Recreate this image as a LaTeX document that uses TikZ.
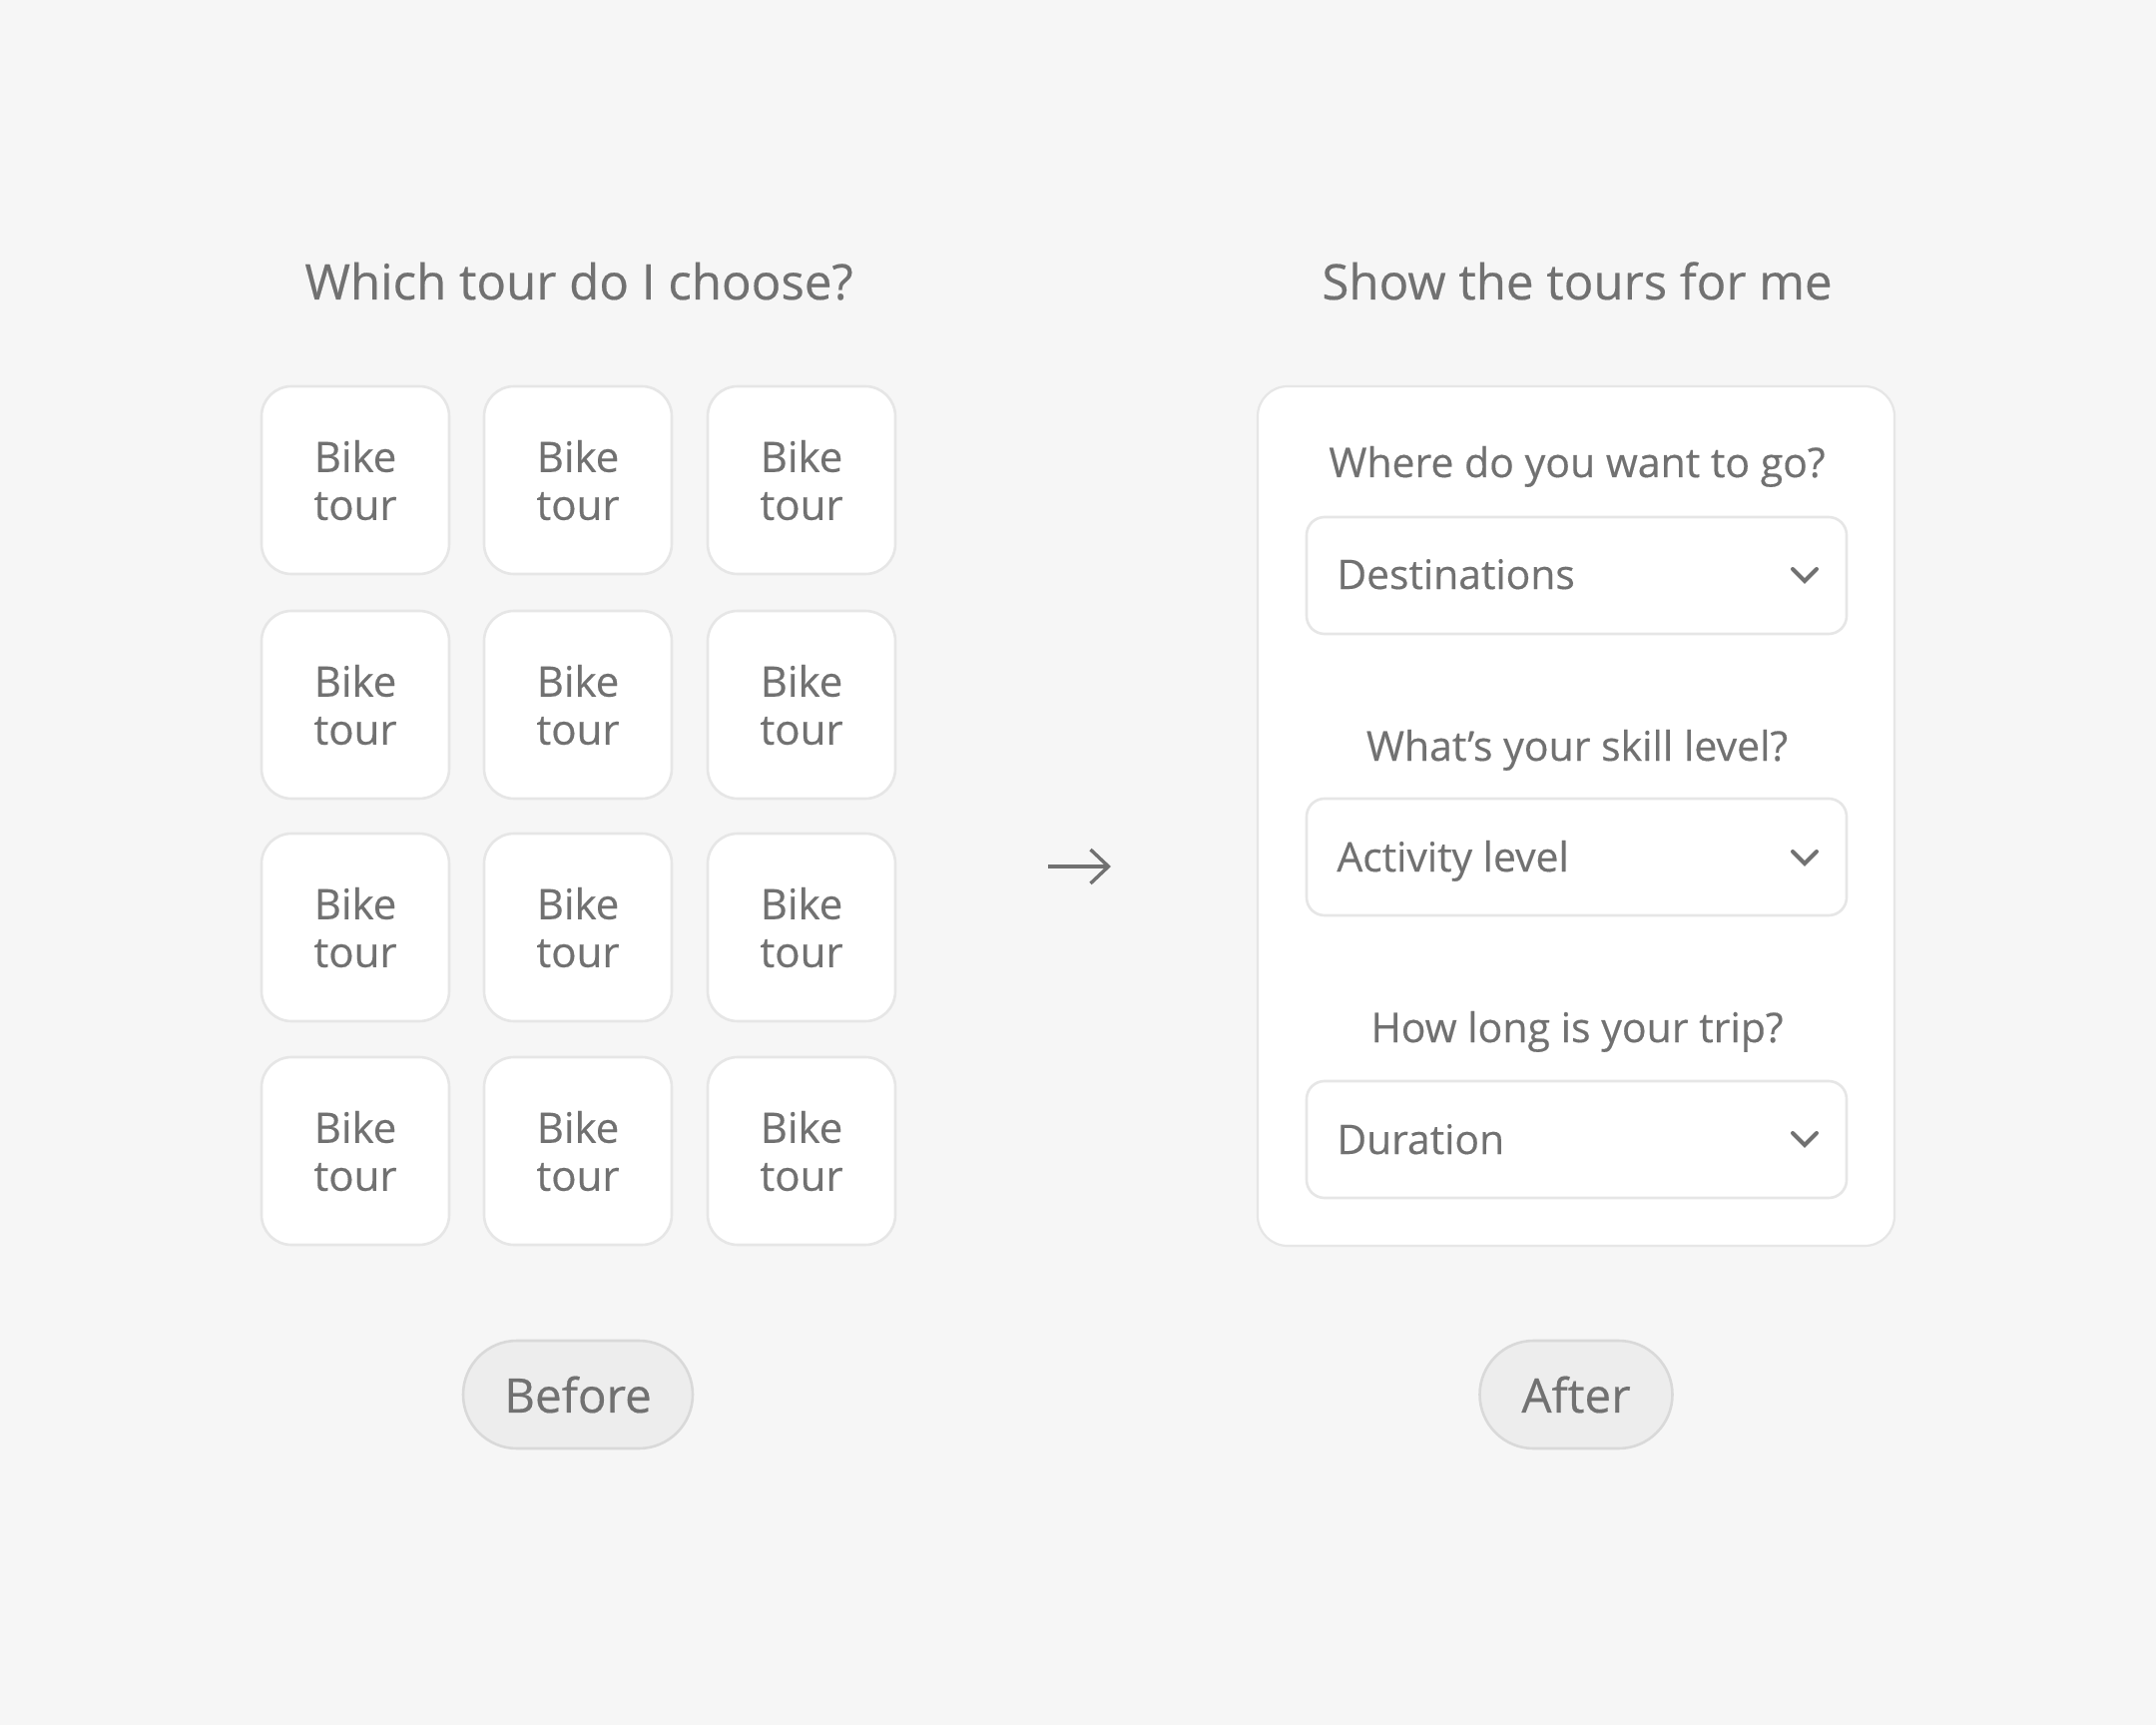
\documentclass[tikz,border=0pt]{standalone}
\usepackage{fontspec}
\setmainfont{Open Sans}
\newfontfamily\uifont{Open Sans}[FakeBold=0.35]
\usetikzlibrary{arrows.meta}
\definecolor{bg}{HTML}{F6F6F6}
\definecolor{txt}{HTML}{717171}
\definecolor{bd}{HTML}{E6E6E6}
\definecolor{pillfill}{HTML}{EDEDED}
\definecolor{pillbd}{HTML}{D9D9D9}
\begin{document}
\begin{tikzpicture}[x=0.5pt,y=-0.5pt,
  tile/.style={draw=bd, line width=1.3pt, fill=white, rounded corners=15pt,
    minimum width=94pt, minimum height=94pt, text=txt, align=center, inner sep=0pt,
    font=\uifont\fontsize{21}{24}\selectfont},
  panel/.style={draw=bd, line width=1.1pt, fill=white, rounded corners=15pt},
  dropbox/.style={draw=bd, line width=1.3pt, fill=white, rounded corners=9pt},
  title/.style={text=txt, font=\uifont\fontsize{24.6}{28}\selectfont, anchor=base, inner sep=0pt},
  question/.style={text=txt, font=\uifont\fontsize{20.5}{24}\selectfont, anchor=base, inner sep=0pt},
  droplabel/.style={text=txt, font=\uifont\fontsize{20.4}{24}\selectfont, anchor=base west, inner sep=0pt},
  pill/.style={draw=pillbd, line width=1.3pt, fill=pillfill, rounded corners=27pt,
    minimum height=54pt, text=txt, inner sep=0pt, font=\uifont\fontsize{23.8}{28}\selectfont},
  chev/.style={draw=txt, line width=2pt, line cap=round, line join=miter},
  arr/.style={draw=txt, line width=1.7pt, -{Straight Barb[length=9pt,width=17pt,line width=1.7pt]}}
]
\fill[bg] (0,0) rectangle (2160,1728);
\useasboundingbox (0,0) rectangle (2160,1728);

% titles
\node[title] (tl) at (580,300) {Which tour do I choose?};
\node[title] (tr) at (1580,300) {Show the tours for me};

% tiles
\foreach \c/\x in {1/356,2/579,3/803}{
  \foreach \r/\y in {1/481,2/706,3/929,4/1153}{
    \node[tile] (t\r\c) at (\x,\y) {Bike\\tour};
  }
}

% arrow
\coordinate (as) at (1050,868);
\coordinate (ae) at (1113,868);
\draw[arr] (as) -- (ae);

% panel
\draw[panel] (1260,387) rectangle (1898,1248);
\node[question] (q1) at (1580,478) {Where do you want to go?};
\node[question] (q2) at (1580,762) {What’s your skill level?};
\node[question] (q3) at (1580,1044) {How long is your trip?};

\draw[dropbox] (1309,518) rectangle (1850,635);
\draw[dropbox] (1309,800) rectangle (1850,917);
\draw[dropbox] (1309,1083) rectangle (1850,1200);
\node[droplabel] (d1) at (1339,590) {Destinations};
\node[droplabel] (d2) at (1339,873) {Activity level};
\node[droplabel] (d3) at (1339,1156) {Duration};
\foreach \y in {576,859,1141}{
  \draw[chev] (1796,\y-6) -- (1808,\y+6) -- (1820,\y-6);
}

% pills
\node[pill, minimum width=115pt] (before) at (579,1397) {Before};
\node[pill, minimum width=96.5pt] (after) at (1579,1397) {After};
\end{tikzpicture}
\end{document}
